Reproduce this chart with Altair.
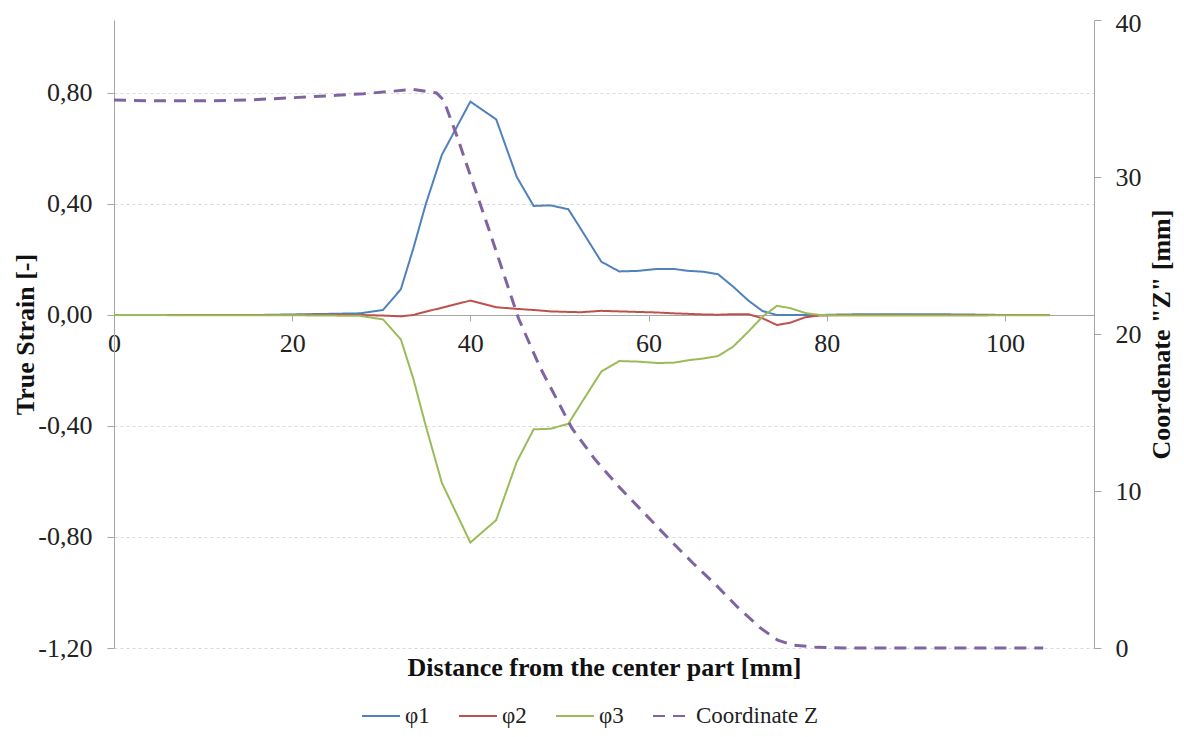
import altair as alt
import pandas as pd

# ---------------- data ----------------
x_strain = [0, 4, 8, 12, 16, 20, 24, 27.6, 30.2, 32.2, 33.6, 35.0, 36.8, 40.0,
            42.9, 45.2, 47.1, 49.0, 51.0, 52.4, 54.7, 56.7, 58.8, 61.0, 62.8,
            64.5, 66.1, 67.8, 69.5, 71.2, 72.8, 74.4, 75.9, 77.6, 79.2, 82,
            86, 90, 95, 100, 105]
phi1 = [0, 0, 0, 0, 0, 0.002, 0.004, 0.006, 0.018, 0.093, 0.24, 0.40, 0.577,
        0.769, 0.705, 0.498, 0.393, 0.395, 0.381, 0.31, 0.192, 0.157, 0.159,
        0.166, 0.166, 0.159, 0.156, 0.147, 0.102, 0.052, 0.014, 0.0, 0.0, 0.0,
        0.0, 0.002, 0.003, 0.003, 0.002, 0.0, 0.0]
phi2 = [0, 0, 0, 0, 0, 0, 0.001, 0.0, -0.002, -0.005, 0.0, 0.012, 0.026,
        0.052, 0.028, 0.022, 0.018, 0.013, 0.011, 0.010, 0.015, 0.013, 0.011,
        0.009, 0.006, 0.004, 0.002, 0.001, 0.003, 0.003, -0.012, -0.036,
        -0.028, -0.008, -0.002, 0, 0, 0, 0, 0, 0]
phi3 = [0, 0, -0.001, -0.001, -0.001, -0.001, -0.002, -0.003, -0.016, -0.088,
        -0.23, -0.40, -0.605, -0.82, -0.739, -0.53, -0.412, -0.41, -0.392,
        -0.32, -0.204, -0.166, -0.168, -0.173, -0.172, -0.163, -0.157, -0.148,
        -0.114, -0.06, -0.006, 0.033, 0.025, 0.007, 0.0, -0.002, -0.002,
        -0.002, -0.002, -0.001, -0.001]

x_z = [0, 5, 10, 15, 20, 25, 28, 31, 33.6, 36.2, 37.0, 38.5, 40.0, 42.0, 45.4,
       47.8, 51.4, 54.0, 56.8, 59.5, 62.2, 65.0, 67.6, 70.0, 72.5, 74.5, 76.2,
       78.9, 82, 90, 100, 104.3]
coord_z = [34.9, 34.85, 34.85, 34.9, 35.05, 35.2, 35.3, 35.45, 35.58, 35.35,
           34.9, 32.6, 30.1, 26.8, 21.0, 17.9, 14.0, 12.0, 10.2, 8.6, 7.0, 5.4,
           4.0, 2.6, 1.3, 0.5, 0.19, 0.04, 0, 0, 0, 0]

series = ["φ1", "φ2", "φ3", "Coordinate Z"]
colors = ["#4F81BD", "#C0504D", "#9BBB59", "#8064A2"]
dashes = [[1, 0], [1, 0], [1, 0], [12, 8]]
x_ticks = [0, 20, 40, 60, 80, 100]
strain_ticks = [-1.2, -0.8, -0.4, 0.0, 0.4, 0.8]
z_ticks = [0, 10, 20, 30, 40]

# ---------------- tables ----------------
rows = []
for name, vals in (("φ1", phi1), ("φ2", phi2), ("φ3", phi3)):
    for xv, yv in zip(x_strain, vals):
        rows.append({"x": xv, "strain": yv, "series": name})
strain_df = pd.DataFrame(rows)
z_df = pd.DataFrame({"x": x_z, "z": coord_z, "series": ["Coordinate Z"] * len(x_z)})

FONT = "Liberation Serif"
AXIS_GRAY = "#A6A6A6"
LBL = 26
TTL = 26
W, H = 980, 628
TOP = 12          # plot top = 8 + TOP
ZERO_FROM_BOTTOM = 333   # pixel distance of strain 0 above the plot bottom

legend = alt.Legend(title=None, orient="none", direction="horizontal",
                    legendX=247, legendY=676,
                    symbolType="stroke", symbolSize=1444, symbolStrokeWidth=2,
                    labelFont=FONT, labelFontSize=23, labelColor="#222222",
                    columnPadding=25, labelOffset=4)
color = alt.Color("series:N", sort=series,
                  scale=alt.Scale(domain=series, range=colors), legend=legend)
dash = alt.StrokeDash("series:N", sort=series,
                      scale=alt.Scale(domain=series, range=dashes), legend=legend)

xscale = alt.Scale(domain=[0, 110], nice=False, zero=False)

strain_line = alt.Chart(strain_df).mark_line(strokeWidth=2).encode(
    x=alt.X("x:Q", scale=xscale,
            axis=alt.Axis(title=None, values=x_ticks, offset=-ZERO_FROM_BOTTOM,
                          grid=False, orient="bottom", labelFlush=False,
                          labelFontSize=LBL, labelPadding=9, tickSize=6,
                          domainColor=AXIS_GRAY, tickColor=AXIS_GRAY)),
    y=alt.Y("strain:Q",
            scale=alt.Scale(domain=[-1.2, 1.063], nice=False, zero=False),
            axis=alt.Axis(title="True Strain [-]", values=strain_ticks,
                          labelExpr="replace(replace(format(datum.value, '.2f'), '.', ','), '\u2212', '-')",
                          grid=True, gridDash=[3, 3], gridColor="#D9D9D9",
                          labelFontSize=LBL, labelPadding=15, tickSize=7,
                          titleFontSize=TTL, titleAngle=270, titleX=-89,
                          titleY=H / 2, titleBaseline="middle", titleAlign="center",
                          domainColor=AXIS_GRAY, tickColor=AXIS_GRAY)),
    color=color,
    strokeDash=dash,
    detail="series:N",
)

z_line = alt.Chart(z_df).mark_line(strokeWidth=3).encode(
    x=alt.X("x:Q", scale=xscale,
            axis=alt.Axis(title="Distance from the center part [mm]", orient="bottom",
                          labels=False, ticks=False, domain=False, grid=False,
                          titleFontSize=TTL, titlePadding=6)),
    y=alt.Y("z:Q", scale=alt.Scale(domain=[0, 40], nice=False),
            axis=alt.Axis(title='Coordenate "Z" [mm]', orient="right",
                          values=z_ticks, grid=False,
                          labelOffset={"condition": {"test": "datum.value == 40", "value": 3},
                                       "value": 0},
                          titleAngle=270, titleX=67, titleY=H / 2,
                          titleBaseline="middle", titleAlign="center",
                          labelFontSize=LBL, labelPadding=14, tickSize=7,
                          titleFontSize=TTL,
                          domainColor=AXIS_GRAY, tickColor=AXIS_GRAY)),
    color=color,
    strokeDash=dash,
)

chart = alt.layer(strain_line, z_line).resolve_scale(
    y="independent"
).resolve_axis(
    x="independent"
).properties(
    width=W, height=H,
    autosize=alt.AutoSizeParams(type="none"),
    padding={"left": 106, "top": TOP, "right": 82, "bottom": 81},
).configure_view(
    stroke=None
).configure_axis(
    labelFont=FONT, titleFont=FONT, labelColor="#222222", titleColor="#111111",
    titleFontWeight="bold"
)

chart.save("out.html", embed_options={"renderer": "svg", "actions": False})
